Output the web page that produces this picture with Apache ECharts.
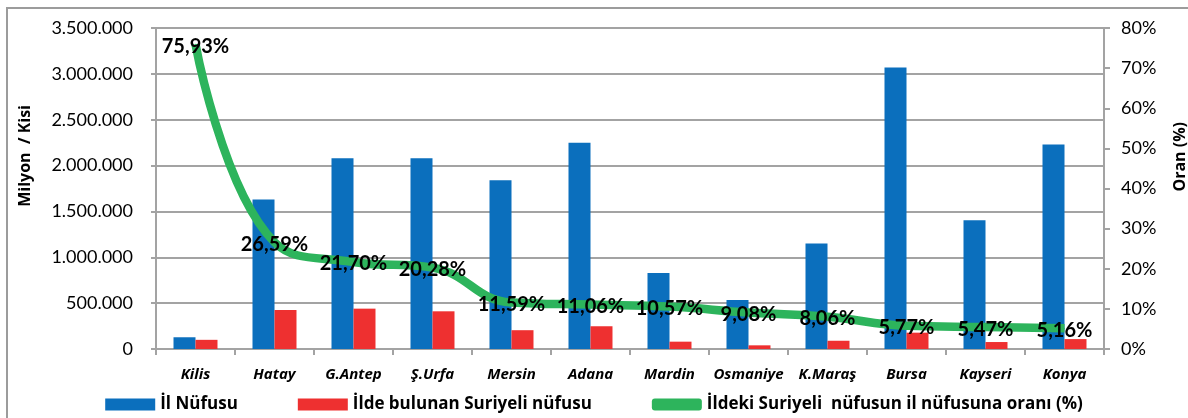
<!DOCTYPE html>
<html>
<head>
<meta charset="utf-8">
<script src="https://cdn.jsdelivr.net/npm/echarts@6/dist/echarts.min.js"></script>
<style>html,body{margin:0;padding:0;background:#fff;}#c{width:1188px;height:418px;}</style>
</head>
<body>
<div id="c"></div>
<script>
var categories = ['Kilis', 'Hatay', 'G.Antep', 'Ş.Urfa', 'Mersin', 'Adana', 'Mardin', 'Osmaniye', 'K.Maraş', 'Bursa', 'Kayseri', 'Konya'];
var ilNufusu = [128000, 1630000, 2080000, 2080000, 1840000, 2250000, 830000, 535000, 1150000, 3070000, 1405000, 2230000];
var suriyeliNufus = [100000, 425000, 440000, 411000, 205000, 248000, 80000, 40000, 90000, 178000, 76000, 108000];
var oran = [75.93, 26.59, 21.70, 20.28, 11.59, 11.06, 10.57, 9.08, 8.06, 5.77, 5.47, 5.16];
var leftTicks = { min: 0, max: 3500000, interval: 500000 };
var rightTicks = { min: 0, max: 80, interval: 10 };

function fmtThousands(v) {
  return String(v).replace(/\B(?=(\d{3})+(?!\d))/g, '.');
}

var chart = echarts.init(document.getElementById('c'));
var gridColor = '#a3a3a3';
var font = 'Lato';
var font2 = 'Open Sans';
chart.setOption({
  animation: false,
  backgroundColor: '#fff',
  grid: { left: 156, right: 84, top: 28, bottom: 69 },
  graphic: [
    { type: 'rect', shape: { x: 7, y: 8, width: 1200, height: 430 }, style: { fill: 'none', stroke: '#9c9c9c', lineWidth: 2 }, silent: true, z: -10 },
    { type: 'text', left: 17, top: 105, rotation: Math.PI / 2, style: { text: 'Milyon  / Kisi', font: 'bold 16px ' + font2, fill: '#000' } },
    { type: 'text', left: 1172, top: 122, rotation: Math.PI / 2, style: { text: 'Oran (%)', font: 'bold 16px ' + font2, fill: '#000' } }
  ],
  legend: {
    bottom: 0,
    left: 'center',
    itemWidth: 50,
    itemHeight: 12,
    itemGap: 60,
    textStyle: { fontFamily: font2, fontWeight: 'bold', fontSize: 17, color: '#000' },
    data: [
      { name: 'İl Nüfusu', icon: 'rect' },
      { name: 'İlde bulunan Suriyeli nüfusu', icon: 'rect' },
      { name: 'İldeki Suriyeli  nüfusun il nüfusuna oranı (%)', icon: 'roundRect' }
    ]
  },
  xAxis: {
    type: 'category',
    data: categories,
    boundaryGap: true,
    axisLine: { lineStyle: { color: gridColor, width: 2 } },
    axisTick: { show: true, length: 6, lineStyle: { color: gridColor, width: 2 } },
    axisLabel: { interval: 0, color: '#000', fontFamily: font2, fontStyle: 'italic', fontWeight: 'bold', fontSize: 15, margin: 18 }
  },
  yAxis: [
    {
      type: 'value',
      min: leftTicks.min, max: leftTicks.max, interval: leftTicks.interval,
      axisLine: { show: true, lineStyle: { color: gridColor, width: 2 } },
      axisTick: { show: true, length: 5, lineStyle: { color: gridColor, width: 2 } },
      splitLine: { show: true, lineStyle: { color: gridColor, width: 2 } },
      axisLabel: { color: '#000', fontFamily: font, fontSize: 18, margin: 23, formatter: function (v) { return fmtThousands(v); } }
    },
    {
      type: 'value',
      min: rightTicks.min, max: rightTicks.max, interval: rightTicks.interval,
      position: 'right',
      axisLine: { show: true, lineStyle: { color: gridColor, width: 2 } },
      axisTick: { show: true, length: 6, lineStyle: { color: gridColor, width: 2 } },
      splitLine: { show: false },
      axisLabel: { color: '#000', fontFamily: font, fontSize: 18, margin: 17, formatter: '{value}%' }
    }
  ],
  series: [
    {
      name: 'İl Nüfusu', type: 'bar', data: ilNufusu, yAxisIndex: 0,
      barWidth: 22, barGap: '0%',
      itemStyle: { color: '#0b6fbd' }
    },
    {
      name: 'İlde bulunan Suriyeli nüfusu', type: 'bar', data: suriyeliNufus, yAxisIndex: 0,
      barWidth: 22, barGap: '0%',
      itemStyle: { color: '#ee3030' }
    },
    {
      name: 'İldeki Suriyeli  nüfusun il nüfusuna oranı (%)', type: 'line', data: oran, yAxisIndex: 1,
      smooth: 0.45,
      symbol: 'circle', symbolSize: 1, showSymbol: true,
      lineStyle: { color: '#2db45c', width: 8.5 },
      itemStyle: { color: '#2db45c' },
      z: 5,
      label: {
        show: true, position: 'inside', offset: [0, 2],
        color: '#000', fontFamily: font, fontWeight: 'bold', fontSize: 20,
        formatter: function (p) { return p.value.toFixed(2).replace('.', ',') + '%'; }
      }
    }
  ]
});
</script>
</body>
</html>
